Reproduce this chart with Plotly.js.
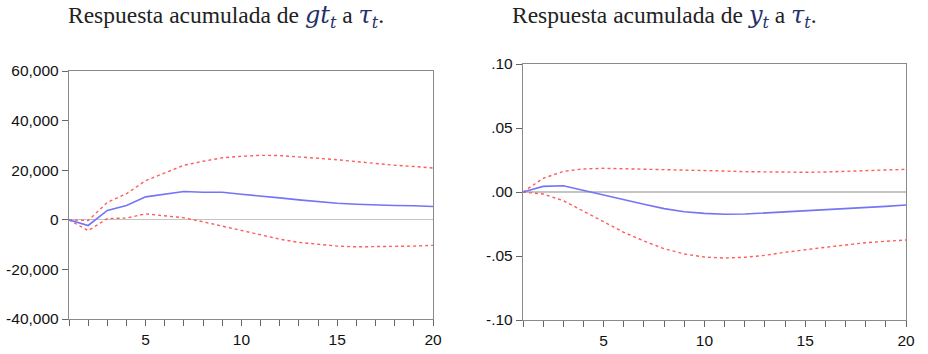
<!DOCTYPE html>
<html>
<head>
<meta charset="utf-8">
<script src="https://cdn.plot.ly/plotly-3.0.1.min.js"></script>
<style>html,body{margin:0;padding:0;background:#fff;}#chart{width:928px;height:354px;}</style>
</head>
<body>
<div id="chart"></div>
<script>
const periods = [1,2,3,4,5,6,7,8,9,10,11,12,13,14,15,16,17,18,19,20];

const gtResp  = [0,-2300,3760,5770,9260,10200,11400,11100,11100,10300,9660,8860,8050,7250,6700,6300,5900,5770,5640,5370];
const gtUpper = [0,-300,7000,10500,15800,18800,22000,23600,25000,25600,26000,25900,25500,24800,24200,23400,22700,22000,21500,20900];
const gtLower = [0,-4400,500,700,2400,1500,800,-800,-2550,-4400,-6300,-7800,-9100,-9900,-10600,-10900,-10900,-10700,-10600,-10300];

const yResp  = [0,0.0044,0.0049,0.0013,-0.0026,-0.0065,-0.0096,-0.013,-0.0154,-0.0167,-0.0174,-0.0172,-0.0164,-0.0156,-0.0148,-0.0141,-0.013,-0.012,-0.0112,-0.0102];
const yUpper = [0,0.0107,0.0161,0.018,0.0185,0.0182,0.018,0.0177,0.0174,0.0169,0.0164,0.0159,0.0156,0.0154,0.0154,0.0156,0.0159,0.0167,0.0172,0.0177];
const yLower = [0,-0.0016,-0.0068,-0.0148,-0.0232,-0.0315,-0.0383,-0.0443,-0.0484,-0.0508,-0.0516,-0.051,-0.0495,-0.0471,-0.045,-0.0432,-0.0414,-0.0396,-0.0385,-0.0375];

const xTickVals = [5,10,15,20];
const xTickText = ['5','10','15','20'];
const gtTickVals = [-40000,-20000,0,20000,40000,60000];
const gtTickText = ['-40,000','-20,000','0','20,000','40,000','60,000'];
const yTickVals = [-0.10,-0.05,0,0.05,0.10];
const yTickText = ['-.10','-.05','.00','.05','.10'];

const blue = '#7474f6';
const red = '#ff5c5c';

function line(x, y, xa, ya, color, dash, w) {
  return {x: x, y: y, xaxis: xa, yaxis: ya, type: 'scatter', mode: 'lines',
          line: {color: color, width: w, dash: dash}, hoverinfo: 'skip', showlegend: false};
}

const data = [
  line(periods, gtUpper, 'x', 'y', red, 'dot', 1.4),
  line(periods, gtLower, 'x', 'y', red, 'dot', 1.4),
  line(periods, gtResp, 'x', 'y', blue, 'solid', 1.6),
  line(periods, yUpper, 'x2', 'y2', red, 'dot', 1.4),
  line(periods, yLower, 'x2', 'y2', red, 'dot', 1.4),
  line(periods, yResp, 'x2', 'y2', blue, 'solid', 1.6)
];

const tickFont = {family: '"Liberation Sans", Arial, sans-serif', size: 15.5, color: '#111'};
function xaxis(domain, anchor) {
  return {domain: domain, anchor: anchor, range: [1, 20], tickmode: 'array', tickvals: xTickVals, ticktext: xTickText,
    ticks: 'outside', ticklen: 6, tickwidth: 1, tickcolor: '#666', tickfont: tickFont,
    minor: {tickmode: 'linear', tick0: 1, dtick: 1, ticks: 'outside', ticklen: 6, tickcolor: '#666', showgrid: false},
    showline: true, linecolor: '#8a8a8a', linewidth: 1.2, mirror: true, showgrid: false, zeroline: false, fixedrange: true};
}
function yaxis(domain, anchor, range, vals, text) {
  return {domain: domain, anchor: anchor, range: range, tickmode: 'array', tickvals: vals, ticktext: text,
    ticks: 'outside', ticklen: 6, tickwidth: 1, tickcolor: '#666', tickfont: tickFont,
    showline: true, linecolor: '#8a8a8a', linewidth: 1.2, mirror: true, showgrid: false,
    zeroline: true, zerolinecolor: '#c4c4c4', zerolinewidth: 1.3, fixedrange: true};
}

const titleFont = {family: '"Liberation Serif", "Times New Roman", serif', size: 23.5, color: '#222'};
const mathFont = '\'DejaVu Serif\', serif';
const m = (s) => '<span style="color:#26306a;font-family:' + mathFont + ';font-size:24px"><i>' + s + '</i></span>';
const ms = (s) => '<sub><span style="color:#26306a;font-family:' + mathFont + ';font-size:16px"><i>' + s + '</i></span></sub>';

const layout = {
  width: 928, height: 354,
  margin: {l: 0, r: 0, t: 0, b: 0},
  paper_bgcolor: '#fff', plot_bgcolor: '#fff',
  showlegend: false,
  xaxis: xaxis([69/928, 433/928], 'y'),
  yaxis: yaxis([35/354, 283/354], 'x', [-40000, 60000], gtTickVals, gtTickText),
  xaxis2: xaxis([523/928, 906/928], 'y2'),
  yaxis2: yaxis([34/354, 290/354], 'x2', [-0.10, 0.10], yTickVals, yTickText),
  annotations: [
    {text: 'Respuesta acumulada de ' + m('gt') + ms('t') + ' a ' + m('τ') + ms('t') + '.',
     xref: 'paper', yref: 'paper', x: 226/928, y: 1 - 17/354, xanchor: 'center', yanchor: 'middle', showarrow: false, font: titleFont},
    {text: 'Respuesta acumulada de ' + m('y') + ms('t') + ' a ' + m('τ') + ms('t') + '.',
     xref: 'paper', yref: 'paper', x: 664/928, y: 1 - 17/354, xanchor: 'center', yanchor: 'middle', showarrow: false, font: titleFont}
  ]
};

Plotly.newPlot('chart', data, layout, {displayModeBar: false, staticPlot: true});
</script>
</body>
</html>
